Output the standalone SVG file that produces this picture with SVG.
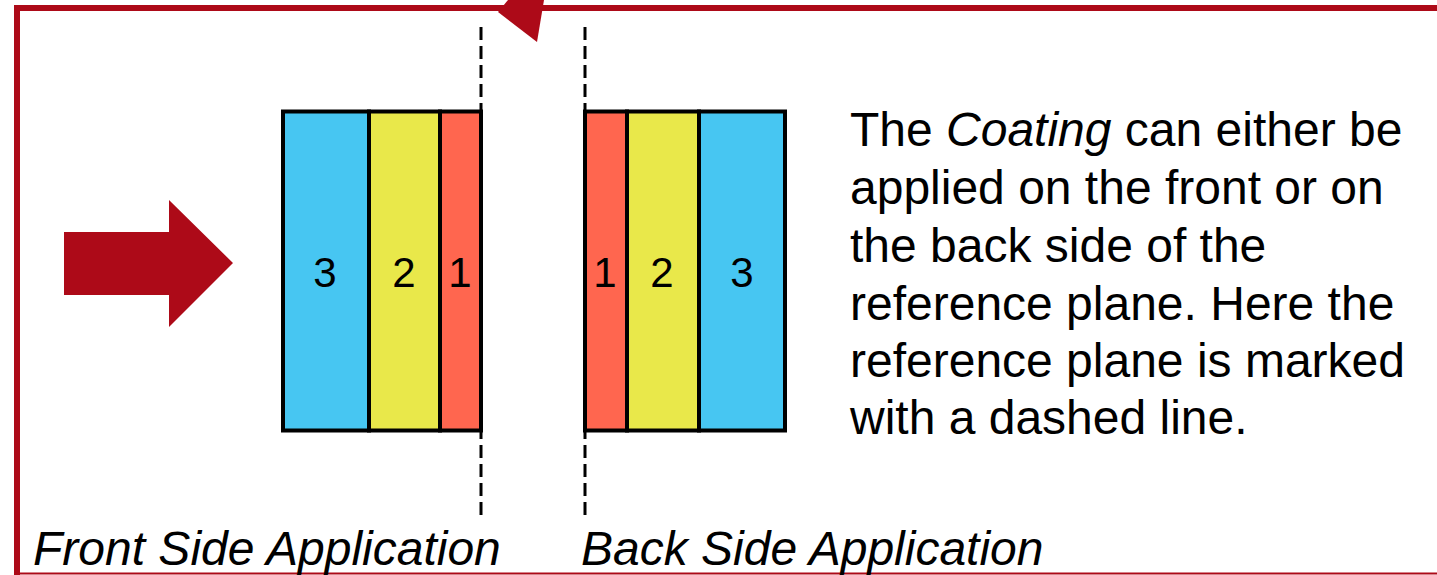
<svg xmlns="http://www.w3.org/2000/svg" width="1437" height="575" viewBox="0 0 1437 575">
  <style>
    .frame { fill: none; stroke: #AD0A18; }
    .red { fill: #AD0A18; }
    .layer { stroke: #000; stroke-width: 4; }
    .c1 { fill: #FF664F; }
    .c2 { fill: #E9E84A; }
    .c3 { fill: #47C6F2; }
    .num { font-family: "Liberation Sans", Arial, sans-serif; font-size: 42px; fill: #000; text-anchor: middle; }
    .body { font-family: "Liberation Sans", Arial, sans-serif; font-size: 48px; fill: #000; }
    .cap { font-family: "Liberation Sans", Arial, sans-serif; font-size: 48px; font-style: italic; fill: #000; }
    .plane { stroke: #000; stroke-width: 3; stroke-dasharray: 13 6; fill: none; }
  </style>

  <rect width="1437" height="575" fill="#fff"/>

  <!-- frame -->
  <g id="frame">
    <path class="frame" stroke-width="6" d="M17 575 V8 H1437"/>
    <path class="frame" stroke-width="2" d="M14 573.5 H1437"/>
  </g>

  <!-- incoming direction arrow -->
  <g id="arrow-in">
    <polygon class="red" points="64,232 169,232 169,200 233,263 169,327 169,295 64,295"/>
  </g>

  <!-- arrowhead at top edge -->
  <g id="arrow-top">
    <polygon class="red" points="508,0 498,12 537,42 544,0"/>
  </g>

  <!-- front side application stack -->
  <g id="front-stack">
    <rect class="layer c3" x="283" y="111.5" width="86" height="319"/>
    <rect class="layer c2" x="369" y="111.5" width="71" height="319"/>
    <rect class="layer c1" x="440" y="111.5" width="41" height="319"/>
    <text class="num" x="325" y="287">3</text>
    <text class="num" x="404" y="287">2</text>
    <text class="num" x="460" y="287">1</text>
  </g>

  <!-- back side application stack -->
  <g id="back-stack">
    <rect class="layer c1" x="585" y="111.5" width="42" height="319"/>
    <rect class="layer c2" x="627" y="111.5" width="72" height="319"/>
    <rect class="layer c3" x="699" y="111.5" width="86" height="319"/>
    <text class="num" x="605" y="287">1</text>
    <text class="num" x="662" y="287">2</text>
    <text class="num" x="742" y="287">3</text>
  </g>

  <!-- reference planes -->
  <g id="connectors">
    <line class="plane" x1="481" y1="27" x2="481" y2="521"/>
    <line class="plane" x1="585" y1="27" x2="585" y2="521"/>
  </g>

  <!-- explanation -->
  <g id="note">
    <text class="body" x="850">
      <tspan x="850" y="146">The <tspan font-style="italic">Coating</tspan> can either be</tspan>
      <tspan x="850" y="204">applied on the front or on</tspan>
      <tspan x="850" y="262">the back side of the</tspan>
      <tspan x="850" y="320">reference plane. Here the</tspan>
      <tspan x="850" y="377">reference plane is marked</tspan>
      <tspan x="850" y="434">with a dashed line.</tspan>
    </text>
  </g>

  <g id="labels">
    <text class="cap" x="33" y="565">Front Side Application</text>
    <text class="cap" x="581" y="565">Back Side Application</text>
  </g>
</svg>
